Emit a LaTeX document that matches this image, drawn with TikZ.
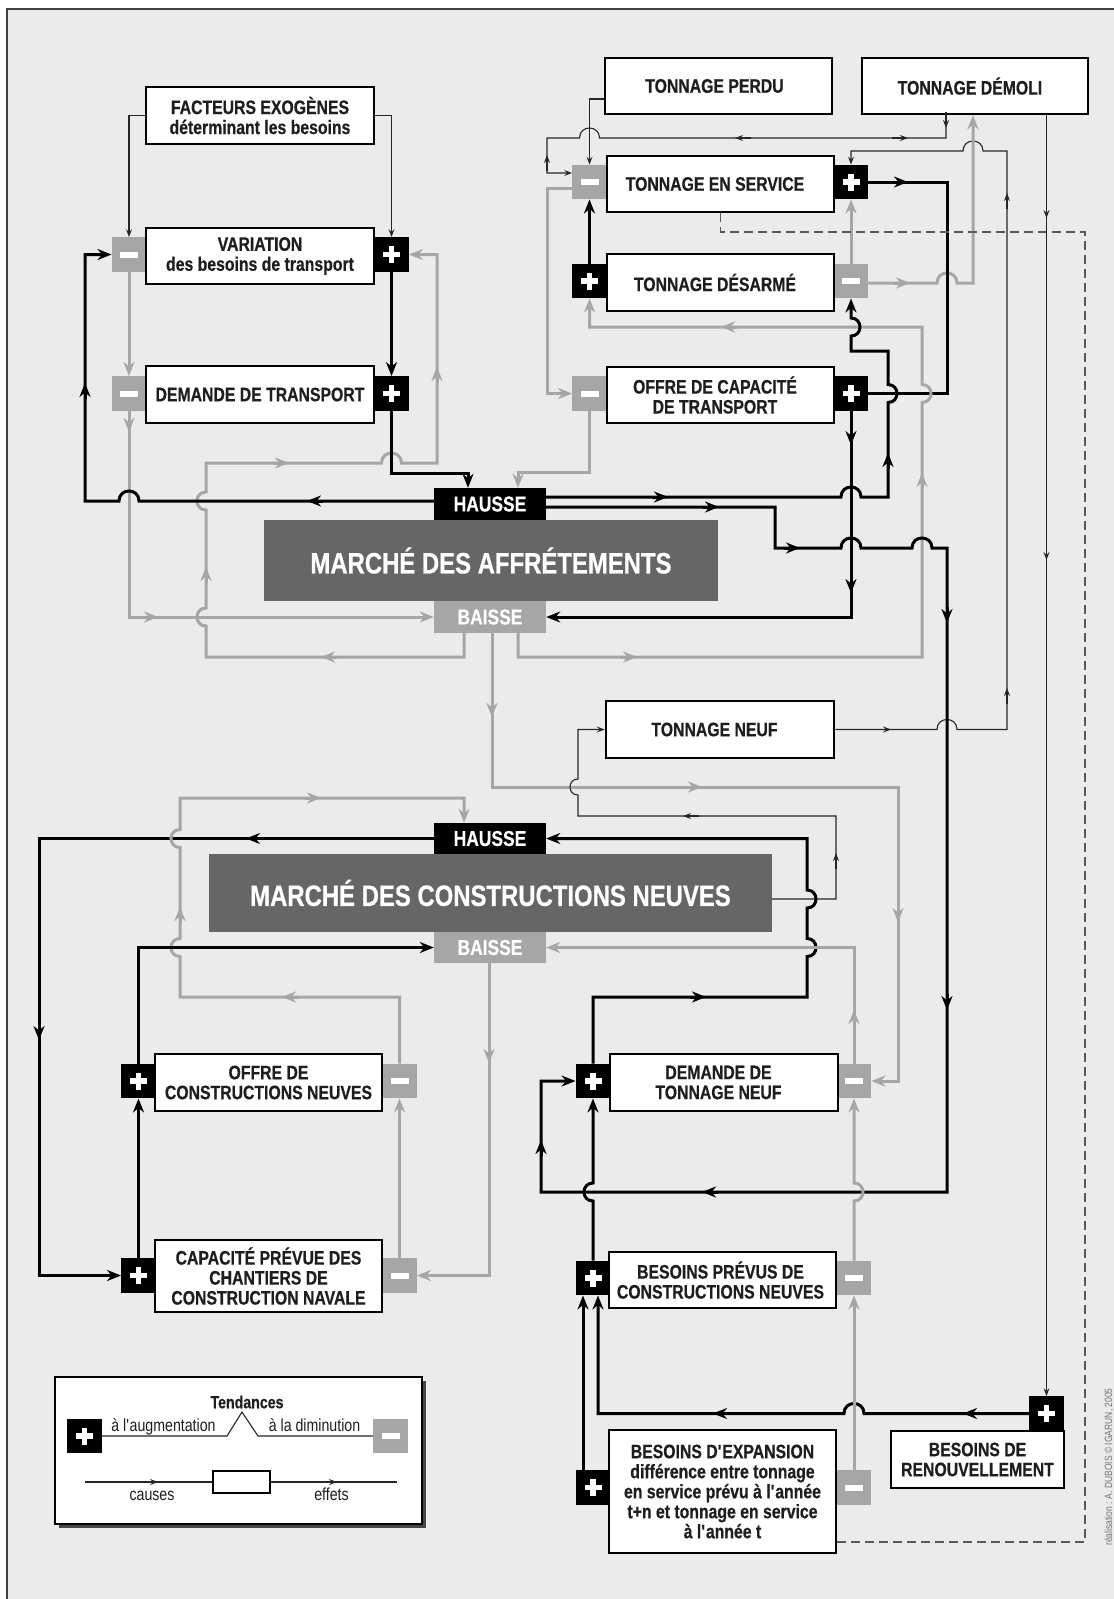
\documentclass[tikz,border=0pt]{standalone}
\usepackage{fontspec}
\setmainfont{Liberation Sans}[FakeStretch=0.81, BoldFeatures={FakeBold=0.5}]
\usetikzlibrary{arrows.meta}
\definecolor{bg}{RGB}{235,235,235}
\definecolor{lg}{RGB}{166,166,166}
\definecolor{dk}{RGB}{102,102,102}
\definecolor{tx}{RGB}{30,30,30}
\newcommand\fb{\fontsize{19.5}{20}\selectfont\bfseries}
\newcommand\fh{\fontsize{21.5}{22}\selectfont\bfseries}
\newcommand\fm{\fontsize{29.5}{30}\selectfont\bfseries}
\newcommand\fl{\fontsize{17.5}{19}\selectfont}
\newcommand\q{\textquotesingle}
\newcommand\sk{\hspace*{11pt}}
% hops and bulges
\newcommand\hr[3]{-- ({#1-#3},#2) .. controls ({#1-#3},{#2-1.333*#3}) and ({#1+#3},{#2-1.333*#3}) .. ({#1+#3},#2)}
\newcommand\hl[3]{-- ({#1+#3},#2) .. controls ({#1+#3},{#2-1.333*#3}) and ({#1-#3},{#2-1.333*#3}) .. ({#1-#3},#2)}
\newcommand\bu[4]{-- (#1,{#2+#3}) .. controls ({#1+(#4)*1.333*#3},{#2+#3}) and ({#1+(#4)*1.333*#3},{#2-#3}) .. (#1,{#2-#3})}
% mid arrows
\newcommand\aR[3]{\draw[#1] ({#2-16},#3) -- (#2,#3);}
\newcommand\aL[3]{\draw[#1] ({#2+16},#3) -- (#2,#3);}
\newcommand\aU[3]{\draw[#1] (#2,{#3+16}) -- (#2,#3);}
\newcommand\aD[3]{\draw[#1] (#2,{#3-16}) -- (#2,#3);}
\begin{document}
\begin{tikzpicture}[x=1pt,y=-1pt,
  blk/.style={line width=3pt, draw=black},
  gry/.style={line width=3pt, draw=lg},
  thn/.style={line width=1.1pt, draw=black!85},
  dsh/.style={line width=1.2pt, draw=black!65, dash pattern=on 9pt off 5pt},
  tB/.style={-{Stealth[length=14pt,width=11pt,inset=4.5pt]}},
  tT/.style={-{Stealth[length=8pt,width=6pt,inset=3pt]}},
  bA/.style={blk,tB}, gA/.style={gry,tB}, tA/.style={thn,tT},
  box/.style={draw=black, line width=2.5pt, fill=white, inner sep=0pt, align=center, text=tx, font=\fb},
  splus/.style={fill=black, minimum width=34.5pt, minimum height=34.5pt, inner sep=0pt, path picture={
    \fill[white] ([shift={(-8.5pt,-2.75pt)}]path picture bounding box.center) rectangle ([shift={(8.5pt,2.75pt)}]path picture bounding box.center);
    \fill[white] ([shift={(-2.75pt,-8.5pt)}]path picture bounding box.center) rectangle ([shift={(2.75pt,8.5pt)}]path picture bounding box.center);}},
  sminus/.style={fill=lg, minimum width=34.5pt, minimum height=34.5pt, inner sep=0pt, path picture={
    \fill[white] ([shift={(-9pt,-3pt)}]path picture bounding box.center) rectangle ([shift={(9pt,3pt)}]path picture bounding box.center);}},
  mkt/.style={fill=black, text=white, font=\fh, inner sep=0pt, minimum width=112pt, minimum height=32pt},
  mkb/.style={fill=lg, text=white, font=\fh, inner sep=0pt, minimum width=112pt, minimum height=32pt},
  mbig/.style={fill=dk, text=white, font=\fm, inner sep=0pt}
]
\useasboundingbox (0,0) rectangle (1114,1599);
\fill[white] (0,0) rectangle (1114,1599);
\fill[bg] (7,9) rectangle (1114,1599);
\draw[line width=1.2pt, black!75] (7,1599) -- (7,9) -- (1114,9);

% ---------- nodes ----------
\node[sminus] (vm) at (129,254.5) {};
\node[splus] (vp) at (391.5,254.5) {};
\node[sminus] (dm) at (129,393.5) {};
\node[splus] (dp) at (391.5,393.5) {};
\node[box,minimum width=228pt,minimum height=57pt] (fact) at (260,115.5) {FACTEURS EXOGÈNES\\déterminant les besoins};
\node[box,minimum width=228pt,minimum height=56pt] (var) at (260,256) {VARIATION\\des besoins de transport};
\node[box,minimum width=228pt,minimum height=57pt] (dem) at (260,394.5) {DEMANDE DE TRANSPORT};

\node[sminus] (sm) at (589.5,182) {};
\node[splus] (sp) at (851,182) {};
\node[splus] (dpl) at (589.5,281) {};
\node[sminus] (dmi) at (851,281) {};
\node[sminus] (om) at (589.5,393.5) {};
\node[splus] (op) at (851,393.5) {};
\node[box,minimum width=227pt,minimum height=56pt] (perdu) at (718.5,86) {TONNAGE PERDU\hspace*{8pt}};
\node[box,minimum width=226pt,minimum height=56pt] (demoli) at (975,86) {TONNAGE DÉMOLI\hspace*{10pt}};
\node[box,minimum width=227pt,minimum height=56pt] (serv) at (720.5,184) {TONNAGE EN SERVICE\sk};
\node[box,minimum width=227pt,minimum height=57pt] (desar) at (720.5,282.5) {TONNAGE DÉSARMÉ\sk};
\node[box,minimum width=227pt,minimum height=56pt] (offre) at (720.5,395) {OFFRE DE CAPACITÉ\sk\\DE TRANSPORT\sk};

\node[mkt] (haus1) at (490,504) {HAUSSE};
\node[mbig,minimum width=454pt,minimum height=81pt] (march1) at (491,560.5) {MARCHÉ DES AFFRÉTEMENTS};
\node[mkb] (bais1) at (490,617) {BAISSE};
\node[box,minimum width=228pt,minimum height=57pt] (neuf) at (720,729.5) {TONNAGE NEUF\sk};
\node[mkt,minimum height=31pt] (haus2) at (490,838.5) {HAUSSE};
\node[mbig,minimum width=563pt,minimum height=78pt] (march2) at (490.5,893) {MARCHÉ DES CONSTRUCTIONS NEUVES};
\node[mkb,minimum height=31pt] (bais2) at (490,947.5) {BAISSE};

\node[splus] (ocp) at (138.5,1081) {};
\node[sminus] (ocm) at (399.5,1081) {};
\node[splus] (cpp) at (138.5,1275.5) {};
\node[sminus] (cpm) at (399.5,1275.5) {};
\node[box,minimum width=227pt,minimum height=57pt] (offc) at (268.5,1082.5) {OFFRE DE\\CONSTRUCTIONS NEUVES};
\node[box,minimum width=227pt,minimum height=72pt] (cap) at (268.5,1276) {CAPACITÉ PRÉVUE DES\\CHANTIERS DE\\CONSTRUCTION NAVALE};

\node[splus] (dtp) at (593,1081) {};
\node[sminus] (dtm) at (854,1081) {};
\node[splus] (prp) at (593,1278) {};
\node[sminus] (prm) at (854,1278) {};
\node[splus] (xpp) at (593,1487.5) {};
\node[sminus] (xpm) at (854,1487.5) {};
\node[splus] (renp) at (1046.5,1413.5) {};
\node[box,minimum width=228pt,minimum height=57pt] (dtn) at (724,1082.5) {DEMANDE DE\sk\\TONNAGE NEUF\sk};
\node[box,minimum width=227pt,minimum height=56pt] (prev) at (722.5,1280) {BESOINS PRÉVUS DE\hspace*{4pt}\\CONSTRUCTIONS NEUVES\hspace*{4pt}};
\node[box,minimum width=227pt,minimum height=123pt] (exp) at (722.5,1491.5) {BESOINS D\q EXPANSION\\différence entre tonnage\\en service prévu à l\q année\\t+n et tonnage en service\\à l\q année t};
\node[box,minimum width=173pt,minimum height=57pt] (ren) at (977.5,1459.5) {BESOINS DE\\RENOUVELLEMENT};

% ---------- connectors: top left ----------
\draw[thn,tT] (fact.west) -| (vm.north);
\draw[thn,tT] (fact.east) -| (vp.north);
\draw[gry,tB] (vm.south) -- (dm.north);
\draw[blk,tB] (vp.south) -- (dp.north);
\draw[gry,tB] (dm.south) |- (bais1.west);
\aD{gA}{129}{432} \aR{gA}{158}{617}
\draw[gry,tB] ([xshift=-26pt]bais1.south) -- (464,657) -- (206,657) \bu{206}{617}{9}{-1} \bu{206}{501}{9}{-1} -- (206,463) \hr{391.5}{463}{10} -- (437,463) |- (vp.east);
\aL{gA}{321}{657} \aU{gA}{206}{567} \aR{gA}{289}{463} \aU{gA}{437}{367}
\draw[blk,tB] (dp.south) |- (468,473) -- ([xshift=-22pt]haus1.north);
\draw[blk,tB] ([yshift=3pt]haus1.west) \hl{129}{501}{10} -- (85,501) |- (vm.west);
\aL{bA}{307}{501} \aU{bA}{85}{383}
\draw[gry,tB] (om.south) |- (518,472) -- ([xshift=28pt]haus1.north);

% ---------- connectors: top right ----------
\draw[thn,tT] ([yshift=-13pt]perdu.west) -| (sm.north);
\draw[thn,tT] ([xshift=-29pt]demoli.south) -- (946,138) \hl{589.5}{138}{10} -- (547,138) -- (547,173) -- ([yshift=9pt]sm.west);
\aD{tA}{946}{128} \aR{tA}{908}{138} \aL{tA}{735}{138} \aU{tA}{547}{155}
\draw[thn,tT] (neuf.east) \hr{947}{729.5}{10} -- (1007,729.5) -- (1007,151) \hl{973}{151}{10} -- (851,151) -- (sp.north);
\aR{tA}{891}{729.5} \aU{tA}{1007}{688} \aU{tA}{1007}{193}
\draw[gry,tB] ([yshift=-2pt]dmi.east) \hr{947}{283}{10} -- (973,283) -- ([xshift=-2pt]demoli.south);
\aR{gA}{910}{283}
\draw[blk] (sp.east) -- (947,182) -- (947,393.5) -- (op.east);
\aR{bA}{908}{182}
\draw[blk,tB] (dpl.north) -- (sm.south);
\draw[gry,tB] ([yshift=-6pt]sm.west) -- (547,188) |- (om.west);
\draw[gry,tB] (dmi.north) -- (sp.south);
\draw[gry,tB] ([xshift=28pt]bais1.south) -- (518,657) -- (922,657) \bu{922}{393.5}{9}{1} -- (922,327) -- (589.5,327) -- (dpl.south);
\aR{gA}{637}{657} \aU{gA}{922}{473} \aL{gA}{721}{327}
\draw[blk,tB] ([yshift=7pt]haus1.east) \hr{851}{497}{10} -- (888,497) \bu{888}{393.5}{9}{1} -- (888,351) -- (851,351) \bu{851}{327}{9}{1} -- (dmi.south);
\aR{bA}{668}{497} \aU{bA}{888}{453}
\draw[blk,tB] (op.south) |- (bais1.east);
\aD{bA}{851}{445} \aD{bA}{851}{593}
\draw[blk,tB] ([yshift=-3pt]haus1.east) -- (775,507) -- (775,548) \hr{851}{548}{10} \hr{922}{548}{10} -- (947,548) -- (947,1192) -- (541,1192) |- (dtp.west);
\aR{bA}{719}{507} \aR{bA}{800}{548} \aD{bA}{947}{623} \aD{bA}{947}{1010} \aL{bA}{702}{1192} \aU{bA}{541}{1140}
\draw[gry,tB] ([xshift=2pt]bais1.south) -- (492,787) -- (898,787) |- (dtm.east);
\aD{gA}{492}{717} \aR{gA}{702}{787} \aD{gA}{898}{922}
\draw[thn,tT] ([yshift=-6pt]march2.east) -- (836,899) -- (836,816) -- (578,816) \bu{578}{787}{8}{-1} -- (578,729.5) -- (neuf.west);
\aU{tA}{836}{853} \aL{tA}{683}{816}
\draw[dsh] (serv.south) -- (720.5,232) -- (1085,232) -- (1085,1542) -- ([yshift=-50.5pt]exp.east);
\draw[thn,tT] (demoli.south -| renp.north) -- (renp.north);
\aD{tA}{1046.5}{218} \aD{tA}{1046.5}{560}

% ---------- connectors: bottom ----------
\draw[blk,tB] (dtp.north) -- (593,997) -- (807,997) \bu{807}{947.5}{9}{1} \bu{807}{899}{9}{1} -- (807,838.5) -- (haus2.east);
\aR{bA}{706}{997}
\draw[gry,tB] (dtm.north) |- (bais2.east);
\aU{gA}{854}{1010}
\draw[blk,tB] (haus2.west) -- (39,838.5) |- (cpp.west);
\aL{bA}{246}{838.5} \aD{bA}{39}{1040}
\draw[gry,tB] (ocm.north) -- (399.5,997) -- (180,997) \bu{180}{947.5}{9}{-1} \bu{180}{838.5}{9}{-1} -- (180,798) -- (464,798) -- ([xshift=-26pt]haus2.north);
\aL{gA}{282}{997} \aU{gA}{180}{907} \aR{gA}{321}{798}
\draw[blk,tB] (ocp.north) |- (bais2.west);
\draw[blk,tB] (cpp.north) -- (ocp.south);
\draw[gry,tB] (cpm.north) -- (ocm.south);
\draw[gry,tB] ([xshift=-1pt]bais2.south) |- (cpm.east);
\aD{gA}{489}{1063}
\draw[blk,tB] (prp.north) \bu{593}{1192}{9}{-1} -- (dtp.south);
\draw[gry,tB] (prm.north) \bu{854}{1192}{9}{1} -- (dtm.south);
\draw[blk,tB] ([xshift=-10pt]xpp.north) -- ([xshift=-10pt]prp.south);
\draw[blk,tB] (renp.west) \hl{854}{1413.5}{10} -- (598,1413.5) -- ([xshift=5pt]prp.south);
\aL{bA}{963}{1413.5} \aL{bA}{713}{1413.5}
\draw[gry,tB] (xpm.north) -- (prm.south);

% ---------- legend ----------
\fill[black!72] (59,1381) rectangle (426,1528);
\node[draw=black,line width=1.5pt,fill=white,minimum width=367pt,minimum height=147pt,inner sep=0pt] (lgbox) at (238.5,1450.5) {};
\node[font=\fl\bfseries,text=tx] (lgt) at (247,1402) {Tendances};
\node[splus] (lgp) at (84.5,1436) {};
\node[sminus] (lgm) at (390.5,1436) {};
\draw[thn] (lgp.east) -- (227,1436) -- (242,1412) -- (258,1436) -- (lgm.west);
\node[font=\fl,text=tx,anchor=base] (lgaug) at (163.5,1431) {à l\q augmentation};
\node[font=\fl,text=tx,anchor=base] (lgdim) at (314.5,1431) {à la diminution};
\node[draw=black,line width=2pt,fill=white,minimum width=57pt,minimum height=22pt,inner sep=0pt] (lgr) at (241.5,1482) {};
\coordinate (lga) at (85,1482);
\coordinate (lgb) at (397,1482);
\draw[thn] (lga) -- (lgr.west);
\draw[thn] (lgr.east) -- (lgb);
\aR{tA}{158}{1482} \aR{tA}{337}{1482}
\node[font=\fl,text=tx,anchor=base] (lgc) at (152,1500) {causes};
\node[font=\fl,text=tx,anchor=base] (lge) at (331.5,1500) {effets};

\node[rotate=90,font=\fontsize{10.5}{12}\selectfont,text=black!55] (cred) at (1109,1467) {réalisation : A. DUBOIS © IGARUN, 2005};
\end{tikzpicture}
\end{document}
